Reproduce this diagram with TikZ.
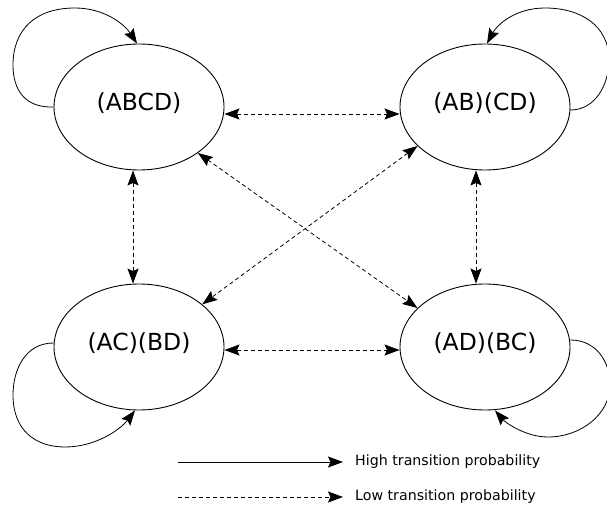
\documentclass[tikz,border=0pt]{standalone}
\usepackage{fontspec}
\setmainfont{DejaVu Sans}
\usetikzlibrary{shapes.geometric,arrows.meta}

\tikzset{
  state/.style={draw, ellipse, line width=0.9pt, minimum width=170pt, minimum height=126pt,
    inner sep=0pt},
  statetext/.style={font=\fontsize{23.5}{28}\selectfont, yshift=4pt},
  high/.style={line width=0.8pt, -{Stealth[length=15pt,width=11pt,inset=2.5pt]}},
  low/.style={line width=0.8pt, dash pattern=on 4pt off 3pt,
    {Stealth[length=15pt,width=11pt,inset=2.5pt]}-{Stealth[length=15pt,width=11pt,inset=2.5pt]}},
  lowone/.style={line width=0.8pt, dash pattern=on 4pt off 3pt, -{Stealth[length=15pt,width=11pt,inset=2.5pt]}},
  legend/.style={anchor=west, inner sep=0pt, font=\fontsize{14.2}{16}\selectfont},
}

\begin{document}
\begin{tikzpicture}[x=1pt,y=-1pt]
\useasboundingbox (0,0) rectangle (607,513);

% the four states
\node[state, label={[statetext]center:(ABCD)}]   (abcd)  at (139,107) {};
\node[state, label={[statetext]center:(AB)(CD)}] (abcd2) at (485,107) {};
\node[state, label={[statetext]center:(AC)(BD)}] (acbd)  at (139,347) {};
\node[state, label={[statetext]center:(AD)(BC)}] (adbc)  at (485,347) {};

% self transitions (high probability)
\draw[high] (abcd.west) .. controls (25,108) and (13,90) .. (13,65)
  .. controls (13,30) and (35,8) .. (75,8)
  .. controls (105,8) and (125,25) .. ([xshift=-2pt]abcd.north);
\draw[high] ([yshift=-3pt]abcd2.east) .. controls (595,110) and (609,85) .. (609,60)
  .. controls (609,25) and (580,8) .. (545,8)
  .. controls (515,8) and (497,25) .. ([xshift=2pt]abcd2.north);
\draw[high] ([yshift=4pt]acbd.west) .. controls (25,343) and (13,370) .. (13,395)
  .. controls (13,430) and (35,447) .. (65,447)
  .. controls (95,447) and (120,430) .. ([xshift=-4pt]acbd.south);
\draw[high] ([yshift=7pt]adbc.east) .. controls (595,340) and (610,360) .. (610,385)
  .. controls (610,415) and (580,437) .. (548,437)
  .. controls (525,437) and (505,422) .. ([xshift=10pt]adbc.south);

% transitions between states (low probability)
\draw[low] ([yshift=-7pt]abcd.east) -- ([yshift=-7pt]abcd2.west);
\draw[low] ([yshift=-3pt]acbd.east) -- ([yshift=-3pt]adbc.west);
\draw[low] ([xshift=-6pt]abcd.south) -- ([xshift=-6pt]acbd.north);
\draw[low] ([xshift=-9pt]abcd2.south) -- ([xshift=-9pt]adbc.north);
\draw[low] (abcd.-38) -- (adbc.150);
\draw[low] (abcd2.-150) -- (acbd.34);

% legend
\coordinate (hs) at (178,462);
\coordinate (he) at (343,462);
\coordinate (ls) at (178,497);
\coordinate (le) at (343,497);
\draw[high] (hs) -- (he);
\draw[lowone] (ls) -- (le);
\node[legend] (hl) at (355,462) {High transition probability};
\node[legend] (ll) at (355,497) {Low transition probability};
\end{tikzpicture}
\end{document}
